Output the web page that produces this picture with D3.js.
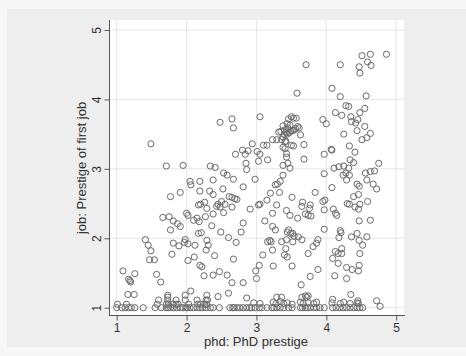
<!DOCTYPE html>
<html><head><meta charset="utf-8">
<script src="https://cdn.jsdelivr.net/npm/d3@7"></script>
<style>html,body{margin:0;padding:0;background:#f7f7f7;}svg{display:block;}</style>
</head><body><svg id="c" width="466" height="356"></svg>
<script>
const xTicks = [1,2,3,4,5];
const yTicks = [1,2,3,4,5];
const xTitle = "phd: PhD prestige";
const yTitle = "job: Prestige of first job";

const phd = [
4.86,4.63,4.51,4.59,4.47,4.64,4.48,4.20,3.71,4.08,4.20,4.57,3.58,4.28,4.32,4.55,4.48,4.13,4.22,4.35,4.45,4.36,4.42,3.95,4.00,4.55,4.44,4.58,4.63,4.51,4.25,4.33,4.41,4.34,4.07,4.08,3.97,4.39,4.25,4.18,4.11,4.32,4.28,4.33,4.24,4.29,4.56,4.63,4.69,4.75,4.58,4.44,4.47,4.67,4.72,4.46,4.59,4.39,4.30,4.33,4.41,4.48,4.46,4.10,4.13,4.15,4.47,4.63,4.20,4.21,4.18,4.36,4.44,4.58,4.47,4.52,4.22,4.13,4.17,4.22,4.48,4.09,4.17,4.29,4.37,4.47,4.46,4.12,4.29,4.35,4.09,4.45,4.72,4.77,
3.05,3.46,3.50,3.53,3.57,3.38,3.44,3.48,3.45,3.40,3.35,3.32,3.43,3.49,3.54,3.59,3.61,3.40,3.38,3.44,3.47,3.52,3.56,3.42,3.63,3.68,3.50,3.53,3.23,3.29,3.36,3.41,3.38,3.41,3.43,3.43,3.68,3.45,3.48,3.38,3.38,3.34,3.30,3.27,3.33,3.20,3.15,3.05,3.03,3.29,3.51,3.66,3.65,3.77,3.76,3.70,3.74,3.78,3.43,3.48,3.23,3.59,3.12,3.23,3.27,3.46,3.44,3.49,3.52,3.54,3.60,3.65,3.43,3.52,3.19,3.16,3.21,3.36,3.42,3.44,3.40,3.23,3.09,3.51,3.24,3.04,2.99,3.00,3.88,3.77,3.64,3.70,3.74,3.88,3.86,3.81,3.74,3.97,3.84,3.95,3.98,3.97,3.97,4.08,
1.49,1.71,1.95,2.05,2.06,2.19,2.34,2.41,2.38,2.53,2.58,2.48,2.65,2.67,2.70,2.80,2.88,2.84,2.94,3.01,3.05,3.03,3.10,3.15,3.16,2.85,2.86,2.98,2.67,2.81,2.52,2.19,2.33,2.38,1.77,1.91,2.20,2.17,2.26,2.29,2.27,2.38,2.00,2.02,2.45,2.50,2.55,2.48,2.53,2.43,2.61,2.65,2.69,2.72,2.65,2.91,2.81,2.78,1.66,1.75,1.81,1.87,1.91,1.77,2.15,2.18,2.10,2.36,2.17,2.21,2.49,2.60,2.71,2.29,2.31,2.28,1.98,1.97,2.02,1.89,1.81,2.12,2.11,2.02,1.79,1.41,1.45,1.49,1.47,1.54,2.40,2.19,2.22,2.67,2.47,2.38,2.25,2.58,2.65,2.81,2.60,2.45,1.57,1.63,1.09,1.17,1.20,1.19,1.26,1.16,1.25,2.06,1.98,1.73,1.73,2.29,2.86,
1.00,1.07,1.12,1.17,1.21,1.26,1.38,1.55,1.64,1.71,1.74,1.77,1.81,1.86,1.91,1.95,1.99,2.01,2.05,2.10,2.15,2.19,2.23,2.28,2.34,2.38,2.47,2.62,2.66,2.68,2.72,2.76,2.81,2.86,2.90,2.93,2.98,3.04,3.08,3.15,3.22,3.25,3.29,3.34,3.39,3.46,3.51,3.63,3.66,3.70,3.73,3.77,3.82,3.86,3.91,3.97,4.09,4.14,4.19,4.24,4.29,4.34,4.39,4.44,4.48,4.52,
1.01,1.14,1.58,1.71,1.74,1.81,1.85,1.88,2.03,2.16,2.20,2.26,2.29,
2.96,3.05,3.24,3.28,3.34,3.39,3.44,3.51,3.63,3.67,3.74,3.82,3.86,4.08,4.20,4.25,4.34,4.44,4.46,
1.60,1.73,1.85,1.98,2.15,2.28,2.30,3.29,3.36,3.65,3.72
];
const job = [
4.65,4.65,4.63,4.54,4.47,4.49,4.38,4.50,4.50,4.16,4.04,4.05,4.09,3.91,3.90,3.87,3.81,3.81,3.77,3.75,3.71,3.68,3.66,3.71,3.65,3.61,3.55,3.45,3.51,3.42,3.50,3.33,3.24,3.13,3.28,3.27,3.21,3.09,3.04,3.03,3.01,3.01,2.94,2.91,2.91,2.84,2.94,2.96,2.97,3.08,2.84,2.78,2.75,2.78,2.71,2.63,2.53,2.60,2.50,2.49,2.45,2.49,2.42,2.42,2.36,2.33,2.25,2.26,2.11,2.08,2.01,2.02,2.07,2.02,1.97,1.90,1.85,1.81,1.78,1.78,1.78,1.71,1.64,1.58,1.55,1.61,1.53,1.46,1.42,1.19,1.12,1.10,1.10,1.02,
3.75,3.72,3.75,3.73,3.73,3.62,3.65,3.63,3.59,3.56,3.54,3.53,3.53,3.55,3.56,3.61,3.59,3.50,3.46,3.50,3.52,3.55,3.58,3.40,3.49,3.35,3.34,3.33,3.42,3.42,3.42,3.39,3.31,3.29,3.22,3.17,3.14,3.08,3.01,3.05,2.91,2.82,2.78,2.77,2.66,2.65,2.55,2.49,2.48,2.48,2.59,2.52,2.46,2.48,2.43,2.35,2.33,2.32,2.40,2.33,2.36,2.29,2.25,2.17,2.12,2.12,2.09,2.07,2.07,2.03,2.02,1.98,1.98,1.95,1.97,1.95,1.95,1.95,1.85,1.73,1.76,1.83,1.76,1.60,1.60,1.61,1.53,1.42,1.55,1.45,1.33,1.17,1.17,1.98,1.93,1.88,1.78,2.13,2.66,2.53,2.55,2.41,2.93,2.73,
3.36,3.04,3.05,2.82,2.77,2.82,3.04,3.02,2.84,2.94,2.91,3.67,3.72,3.59,3.21,3.27,3.26,3.21,3.36,3.25,3.21,3.11,3.34,3.34,3.13,3.08,2.99,2.85,2.85,2.74,2.71,2.68,2.68,2.63,2.60,2.66,2.49,2.48,2.52,2.43,2.31,2.35,2.36,2.33,2.49,2.53,2.49,2.45,2.37,2.46,2.60,2.59,2.57,2.56,2.45,2.42,2.22,2.09,2.30,2.31,2.25,2.21,2.17,2.12,2.29,2.24,2.26,2.18,2.07,2.08,2.09,2.01,1.94,1.97,1.90,1.83,1.98,1.94,1.92,1.89,1.93,1.90,1.73,1.68,1.77,1.98,1.90,1.82,1.69,1.69,1.75,1.61,1.59,1.70,1.52,1.47,1.46,1.47,1.36,1.36,1.21,1.16,1.48,1.37,1.53,1.41,1.37,1.39,1.49,1.19,1.19,1.24,1.18,1.18,1.15,1.18,1.14,
1.00,1.00,1.00,1.00,1.00,1.00,1.00,1.00,1.00,1.00,1.00,1.00,1.00,1.00,1.00,1.00,1.00,1.00,1.00,1.00,1.00,1.00,1.00,1.00,1.00,1.00,1.00,1.00,1.00,1.00,1.00,1.00,1.00,1.00,1.00,1.00,1.00,1.00,1.00,1.00,1.00,1.00,1.00,1.00,1.00,1.00,1.00,1.00,1.00,1.00,1.00,1.00,1.00,1.00,1.00,1.00,1.00,1.00,1.00,1.00,1.00,1.00,1.00,1.00,1.00,1.00,
1.05,1.05,1.05,1.05,1.05,1.05,1.05,1.05,1.05,1.05,1.05,1.05,1.05,
1.07,1.06,1.08,1.06,1.09,1.06,1.07,1.05,1.08,1.06,1.07,1.06,1.08,1.07,1.06,1.08,1.06,1.07,1.06,
1.11,1.11,1.11,1.11,1.11,1.11,1.11,1.15,1.15,1.15,1.15
];

const svg = d3.select("#c");
// graph region
svg.append("rect").attr("x",7).attr("y",9).attr("width",459).attr("height",338).attr("fill","#eeeeee");
// plot region
svg.append("rect").attr("x",109).attr("y",20).attr("width",295).attr("height",295).attr("fill","#ffffff");

const x = d3.scaleLinear().domain([1,5]).range([116.7,396.2]);
const y = d3.scaleLinear().domain([1,5]).range([307.7,30]);

// grid
svg.append("g").selectAll("line").data(xTicks).join("line")
  .attr("x1",d=>x(d)).attr("x2",d=>x(d)).attr("y1",20).attr("y2",315)
  .attr("stroke","#e6e6e6").attr("stroke-width",1);
svg.append("g").selectAll("line").data(yTicks).join("line")
  .attr("y1",d=>y(d)).attr("y2",d=>y(d)).attr("x1",109).attr("x2",404)
  .attr("stroke","#e6e6e6").attr("stroke-width",1);

// points
const pts = phd.map((v,i)=>[v,job[i]]);
svg.append("g").selectAll("circle").data(pts).join("circle")
  .attr("cx",d=>x(d[0])).attr("cy",d=>y(d[1])).attr("r",3.1)
  .attr("fill","none").attr("stroke","#6a6a6a").attr("stroke-width",1);

// axes
const xa = svg.append("g").attr("transform","translate(0,315.5)")
  .call(d3.axisBottom(x).tickValues(xTicks).tickSize(5).tickPadding(3).tickFormat(d3.format("d")));
xa.select(".domain").attr("d","M109,0H405").attr("stroke","#555");
xa.selectAll(".tick line").attr("stroke","#555");
xa.selectAll("text").attr("font-family","Liberation Sans, Arial, sans-serif").attr("font-size",12).attr("fill","#333");

const ya = svg.append("g").attr("transform","translate(109.5,0)")
  .call(d3.axisLeft(y).tickValues(yTicks).tickSize(5).tickPadding(3).tickFormat(d3.format("d")));
ya.select(".domain").attr("d","M0,20V316").attr("stroke","#555");
ya.selectAll(".tick line").attr("stroke","#555");
ya.selectAll("text").attr("font-family","Liberation Sans, Arial, sans-serif").attr("font-size",12).attr("fill","#333")
  .attr("text-anchor","middle").attr("dy",null).attr("x",0).attr("y",0)
  .attr("transform","translate(-8.5,0) rotate(-90)");

svg.append("text").attr("x",256).attr("y",346).attr("text-anchor","middle")
  .attr("font-family","Liberation Sans, Arial, sans-serif").attr("font-size",13).attr("fill","#333").text(xTitle);
svg.append("text").attr("transform","translate(86,168) rotate(-90)").attr("text-anchor","middle")
  .attr("font-family","Liberation Sans, Arial, sans-serif").attr("font-size",13).attr("fill","#333").text(yTitle);
</script></body></html>
